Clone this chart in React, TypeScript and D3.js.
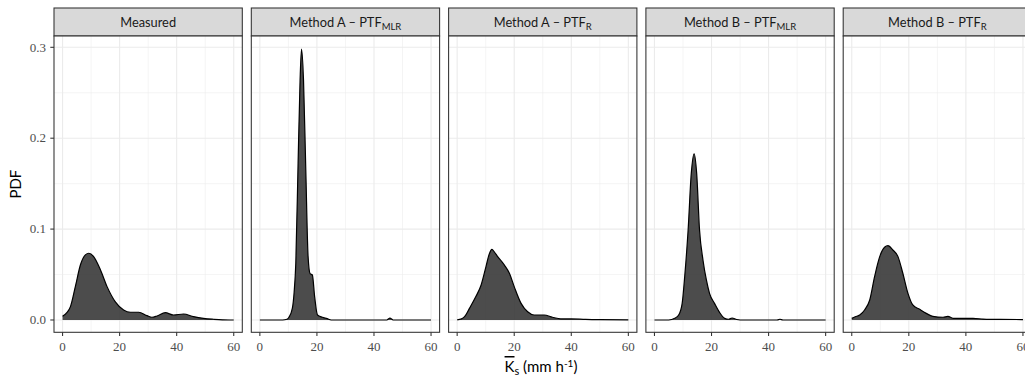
import React from 'react';
import * as d3 from 'd3';

// ---- Data ----
const panelMain = ['Measured', 'Method A \u2013  PTF', 'Method A \u2013  PTF', 'Method B \u2013  PTF', 'Method B \u2013  PTF'];
const panelSub = ['', 'MLR', 'R', 'MLR', 'R'];

const measuredX = [0, 1.5, 2.8, 4.5, 6.3, 8.0, 9.2, 10.9, 13.3, 15.6, 18.5, 21.4, 23.8, 26.7, 29.6, 31.3, 33.1, 36.0, 38.9, 42.4, 45.9, 49.4, 52.9, 56, 60];
const measuredY = [0.004, 0.008, 0.015, 0.037, 0.061, 0.0716, 0.0734, 0.0697, 0.055, 0.0367, 0.02, 0.011, 0.0085, 0.0085, 0.0048, 0.003, 0.0044, 0.008, 0.0055, 0.0066, 0.0037, 0.0018, 0.0008, 0.0002, 0];

const aMlrX = [0, 8, 9.5, 10.2, 11.4, 12.0, 12.6, 13.4, 14.1, 14.6, 15.3, 16.1, 16.9, 17.6, 18.4, 19.2, 20.2, 21.9, 23.6, 25, 44.5, 45.6, 46.7, 60];
const aMlrY = [0, 0, 0.0008, 0.003, 0.013, 0.03, 0.0627, 0.1725, 0.264, 0.298, 0.264, 0.165, 0.07, 0.051, 0.0495, 0.0257, 0.0055, 0.003, 0.0015, 0, 0, 0.002, 0, 0];

const aRX = [0, 0.2, 1.5, 2.6, 4.3, 6.6, 8.4, 10.1, 11.2, 12.2, 13.0, 14.2, 16.5, 18.3, 20.0, 22.4, 24.7, 27.0, 30.5, 33.4, 36.3, 40, 45, 50, 60];
const aRY = [0, 0.0003, 0.0012, 0.0036, 0.0128, 0.026, 0.0385, 0.0587, 0.072, 0.0776, 0.075, 0.0697, 0.0606, 0.0514, 0.0367, 0.0183, 0.009, 0.0055, 0.0055, 0.003, 0.0012, 0.0012, 0.0006, 0.0003, 0.0001];

const bMlrX = [0, 5, 7.1, 8.5, 9.7, 10.6, 11.8, 12.9, 13.9, 14.8, 15.8, 17.0, 18.2, 19.3, 21.1, 22.8, 24.6, 26.0, 27.2, 28.8, 30, 43, 44, 45, 60];
const bMlrY = [0, 0, 0.0018, 0.0055, 0.018, 0.0477, 0.099, 0.161, 0.1828, 0.161, 0.099, 0.066, 0.044, 0.0293, 0.018, 0.0084, 0.0018, 0.0008, 0.0022, 0.0005, 0, 0, 0.0008, 0, 0];

const bRX = [0, 1.2, 2.8, 4.5, 6.3, 8.0, 9.8, 11.5, 12.7, 14.4, 16.2, 17.9, 19.7, 21.4, 23.8, 26.1, 28.4, 32, 33.7, 35.5, 39, 42.5, 46, 52, 60];
const bRY = [0.0018, 0.0035, 0.0055, 0.011, 0.022, 0.0477, 0.0697, 0.08, 0.0818, 0.077, 0.0697, 0.0514, 0.0293, 0.0165, 0.0117, 0.0073, 0.004, 0.003, 0.004, 0.0018, 0.0018, 0.0018, 0.001, 0.0006, 0.0005];

const seriesX = [measuredX, aMlrX, aRX, bMlrX, bRX];
const seriesY = [measuredY, aMlrY, aRY, bMlrY, bRY];

const xMajor = [0, 20, 40, 60];
const xMinor = [10, 30, 50];
const yMajor = [0, 0.1, 0.2, 0.3];
const yMinor = [0.05, 0.15, 0.25];
const yTickLabels = ['0.0', '0.1', '0.2', '0.3'];

// ---- Layout ----
const W = 1025;
const H = 378;
const firstLeft = 54;
const step = 197.3;
const pw = 188.3;
const stripTop = 8;
const panelTop = 36;
const panelBottom = 332.3;
const ph = panelBottom - panelTop;

const tickFont = "'Liberation Serif', serif";
const titleFont = "Lato, 'Open Sans', sans-serif";

export default function App() {
  const x = d3.scaleLinear().domain([-3, 63]).range([0, pw]);
  const y = d3.scaleLinear().domain([-0.01355, 0.31244]).range([ph, 0]);

  const area = d3
    .area<[number, number]>()
    .x((d) => x(d[0]))
    .y0(y(0))
    .y1((d) => y(d[1]))
    .curve(d3.curveMonotoneX);
  const line = d3
    .line<[number, number]>()
    .x((d) => x(d[0]))
    .y((d) => y(d[1]))
    .curve(d3.curveMonotoneX);

  return (
    <svg
      width={W}
      height={H}
      style={{ position: 'absolute', left: 0, top: 0, background: '#fff' }}
    >
      <rect x={0} y={0} width={W} height={H} fill="#fff" />
      {seriesX.map((xs, i) => {
        const left = firstLeft + i * step;
        const pts: [number, number][] = xs.map((v, j) => [v, seriesY[i][j]]);
        return (
          <g key={i} transform={`translate(${left},0)`}>
            {/* strip */}
            <rect x={0} y={stripTop} width={pw} height={panelTop - stripTop} fill="#D9D9D9" stroke="#333" strokeWidth={1.07} />
            <text
              x={pw / 2}
              y={(stripTop + panelTop) / 2 + 4.5}
              textAnchor="middle"
              fontFamily={titleFont}
              fontSize={12.8}
              fill="#1A1A1A"
            >
              {panelMain[i]}
              {panelSub[i] ? (
                <tspan fontSize={9.5} dy={3}>
                  {panelSub[i]}
                </tspan>
              ) : null}
            </text>
            <g transform={`translate(0,${panelTop})`}>
              <rect x={0} y={0} width={pw} height={ph} fill="#fff" />
              {xMinor.map((v) => (
                <line key={'xm' + v} x1={x(v)} x2={x(v)} y1={0} y2={ph} stroke="#EBEBEB" strokeWidth={0.55} />
              ))}
              {yMinor.map((v) => (
                <line key={'ym' + v} x1={0} x2={pw} y1={y(v)} y2={y(v)} stroke="#EBEBEB" strokeWidth={0.55} />
              ))}
              {xMajor.map((v) => (
                <line key={'xM' + v} x1={x(v)} x2={x(v)} y1={0} y2={ph} stroke="#EBEBEB" strokeWidth={1.1} />
              ))}
              {yMajor.map((v) => (
                <line key={'yM' + v} x1={0} x2={pw} y1={y(v)} y2={y(v)} stroke="#EBEBEB" strokeWidth={1.1} />
              ))}
              <path d={area(pts) || ''} fill="#333" fillOpacity={0.88} />
              <path d={line(pts) || ''} fill="none" stroke="#000" strokeWidth={1.2} />
              <rect x={0} y={0} width={pw} height={ph} fill="none" stroke="#333" strokeWidth={1.07} />
              {/* x axis ticks */}
              {xMajor.map((v) => (
                <g key={'xt' + v}>
                  <line x1={x(v)} x2={x(v)} y1={ph} y2={ph + 3.7} stroke="#333" strokeWidth={1.07} />
                  <text
                    x={x(v)}
                    y={ph + 18.5}
                    textAnchor="middle"
                    fontFamily={tickFont}
                    fontSize={13}
                    fill="#4D4D4D"
                  >
                    {v}
                  </text>
                </g>
              ))}
              {i === 0
                ? yMajor.map((v, k) => (
                    <g key={'yt' + v}>
                      <line x1={-3.7} x2={0} y1={y(v)} y2={y(v)} stroke="#333" strokeWidth={1.07} />
                      <text
                        x={-8}
                        y={y(v) + 4.3}
                        textAnchor="end"
                        fontFamily={tickFont}
                        fontSize={13}
                        fill="#4D4D4D"
                      >
                        {yTickLabels[k]}
                      </text>
                    </g>
                  ))
                : null}
            </g>
          </g>
        );
      })}
      {/* y title */}
      <text
        transform={`translate(21,${(panelTop + panelBottom) / 2}) rotate(-90)`}
        textAnchor="middle"
        fontFamily={titleFont}
        fontSize={15}
        fill="#000"
      >
        PDF
      </text>
      {/* x title */}
      <text
        x={541}
        y={372}
        textAnchor="middle"
        fontFamily={titleFont}
        fontSize={15}
        fill="#000"
      >
        <tspan style={{ textDecoration: 'overline' }}>K</tspan>
        <tspan fontSize={11} dy={3}>s</tspan>
        <tspan dy={-3}> (mm h</tspan>
        <tspan fontSize={10} dy={-5}>-1</tspan>
        <tspan dy={5}>)</tspan>
      </text>
    </svg>
  );
}
